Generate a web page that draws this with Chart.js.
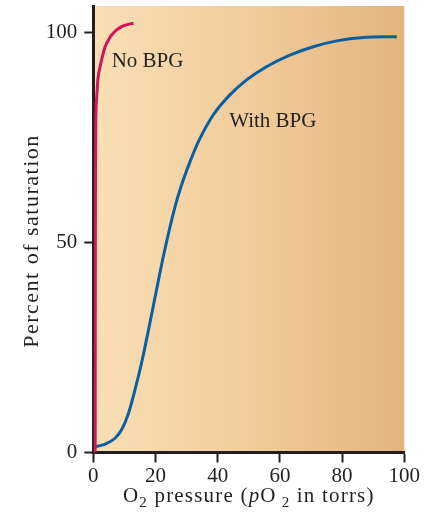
<!DOCTYPE html>
<html>
<head>
<meta charset="utf-8">
<script src="https://cdn.jsdelivr.net/npm/chart.js@4/dist/chart.umd.min.js"></script>
<style>
  html, body { margin: 0; padding: 0; background: #ffffff; }
  canvas { display: block; }
</style>
</head>
<body>
<canvas id="c" width="436" height="514" style="width:436px;height:514px"></canvas>
<script>
// ---- data ----
const pressureNoBPG = [0.6, 0.62, 0.66, 0.72, 0.8, 1.1, 1.5, 2.2, 3.0, 3.8, 5.0, 5.9, 7.5, 9.1, 11.0, 12.9];
const satNoBPG      = [0, 25, 50, 68, 79, 84.7, 89, 91.9, 94.5, 96.6, 98.4, 99.4, 100.6, 101.4, 101.9, 102.2];

const pressureWithBPG = [0.5, 3.8, 7.0, 9.1, 11.3, 13.4, 15.6, 17.7, 20.4, 22.5, 24.7, 26.8, 28.9, 31.3, 33.8, 38.6, 44.0, 49.3, 55.8, 63.2, 70.7, 78.3, 86.8, 97.6];
const satWithBPG      = [1.4, 2.0, 3.4, 5.4, 9.3, 14.9, 21.6, 29.0, 39.0, 46.6, 53.8, 59.9, 64.8, 69.6, 74.0, 80.4, 85.2, 88.7, 91.9, 94.6, 96.6, 98.0, 98.8, 99.0];

const xTicks = [0, 20, 40, 60, 80, 100];
const yTicks = [0, 50, 100];

const seriesNames = ['No BPG', 'With BPG'];
const labelAnchors = [[5.9, 91.7], [43.7, 77.4]];

const xTitleParts = [
  { t: 'O', style: 'n' }, { t: '2', style: 'sub' }, { t: ' pressure (', style: 'n' },
  { t: 'p', style: 'i' }, { t: 'O', style: 'n' }, { t: ' 2', style: 'sub' }, { t: ' in torrs)', style: 'n' }
];
const yTitle = 'Percent of saturation';

// ---- styling ----
const INK = '#231f20';
const SERIF = '"Liberation Serif", "Times New Roman", serif';

function toXY(xs, ys) { return xs.map((x, i) => ({ x: x, y: ys[i] })); }

const bgPlugin = {
  id: 'bg',
  beforeDraw(chart) {
    const { ctx, chartArea: a } = chart;
    const g = ctx.createLinearGradient(a.left, 0, a.right, 0);
    g.addColorStop(0, '#fadfb5');
    g.addColorStop(0.5, '#f1cc9c');
    g.addColorStop(1, '#e3b47e');
    ctx.save();
    ctx.fillStyle = g;
    ctx.fillRect(a.left, a.top, a.right - a.left, a.bottom - a.top);
    ctx.restore();
  }
};

const textPlugin = {
  id: 'texts',
  afterDraw(chart) {
    const { ctx, chartArea: a, scales } = chart;
    ctx.save();
    ctx.fillStyle = INK;
    ctx.textBaseline = 'alphabetic';
    // series labels
    ctx.font = '21px ' + SERIF;
    ctx.textAlign = 'left';
    seriesNames.forEach((n, i) => {
      const px = scales.x.getPixelForValue(labelAnchors[i][0]);
      const py = scales.y.getPixelForValue(labelAnchors[i][1]);
      ctx.fillText(n, px, py);
    });

    // x title with subscripts / italic
    ctx.letterSpacing = '1.2px';
    const fontFor = s => s === 'sub' ? '15px ' + SERIF : (s === 'i' ? 'italic 21px ' + SERIF : '21px ' + SERIF);
    let total = 0;
    xTitleParts.forEach(p => { ctx.font = fontFor(p.style); total += ctx.measureText(p.t).width; });
    let x = (a.left + a.right) / 2 - total / 2;
    const base = 501.5;
    xTitleParts.forEach(p => {
      ctx.font = fontFor(p.style);
      ctx.fillText(p.t, x, p.style === 'sub' ? base + 5 : base);
      x += ctx.measureText(p.t).width;
    });

    // y title
    ctx.letterSpacing = '1.5px';
    ctx.font = '22px ' + SERIF;
    ctx.textAlign = 'center';
    ctx.translate(38, 241);
    ctx.rotate(-Math.PI / 2);
    ctx.fillText(yTitle, 0, 0);
    ctx.restore();
  }
};

new Chart(document.getElementById('c'), {
  type: 'line',
  data: {
    datasets: [
      {
        label: seriesNames[0],
        data: toXY(pressureNoBPG, satNoBPG),
        borderColor: '#d2145a',
        borderWidth: 3,
        pointRadius: 0,
        cubicInterpolationMode: 'monotone',
        fill: false
      },
      {
        label: seriesNames[1],
        data: toXY(pressureWithBPG, satWithBPG),
        borderColor: '#0a5fa3',
        borderWidth: 3,
        pointRadius: 0,
        cubicInterpolationMode: 'monotone',
        fill: false
      }
    ]
  },
  options: {
    responsive: false,
    devicePixelRatio: 1,
    animation: false,
    layout: { padding: { top: 6, right: 31.7, left: 0, bottom: 0 } },
    plugins: { legend: { display: false }, tooltip: { enabled: false } },
    scales: {
      x: {
        type: 'linear',
        min: 0, max: 100,
        afterBuildTicks: s => { s.ticks = xTicks.map(v => ({ value: v })); },
        afterFit: s => { s.height = 61.5; s.paddingLeft = 0; s.paddingRight = 0; },
        ticks: { color: INK, font: { family: SERIF, size: 21 }, padding: 1, maxRotation: 0 },
        grid: { drawOnChartArea: false, drawTicks: true, tickLength: 10, tickColor: INK, tickWidth: 2 },
        border: { color: INK, width: 3 }
      },
      y: {
        type: 'linear',
        min: 0, max: 106.3,
        afterBuildTicks: s => { s.ticks = yTicks.map(v => ({ value: v })); },
        afterFit: s => { s.width = 93.3; s.paddingTop = 0; s.paddingBottom = 0; },
        ticks: { color: INK, font: { family: SERIF, size: 21 }, padding: 7 },
        grid: { drawOnChartArea: false, drawTicks: true, tickLength: 9, tickColor: INK, tickWidth: 2 },
        border: { color: INK, width: 3 }
      }
    }
  },
  plugins: [bgPlugin, textPlugin]
});
</script>
</body>
</html>
